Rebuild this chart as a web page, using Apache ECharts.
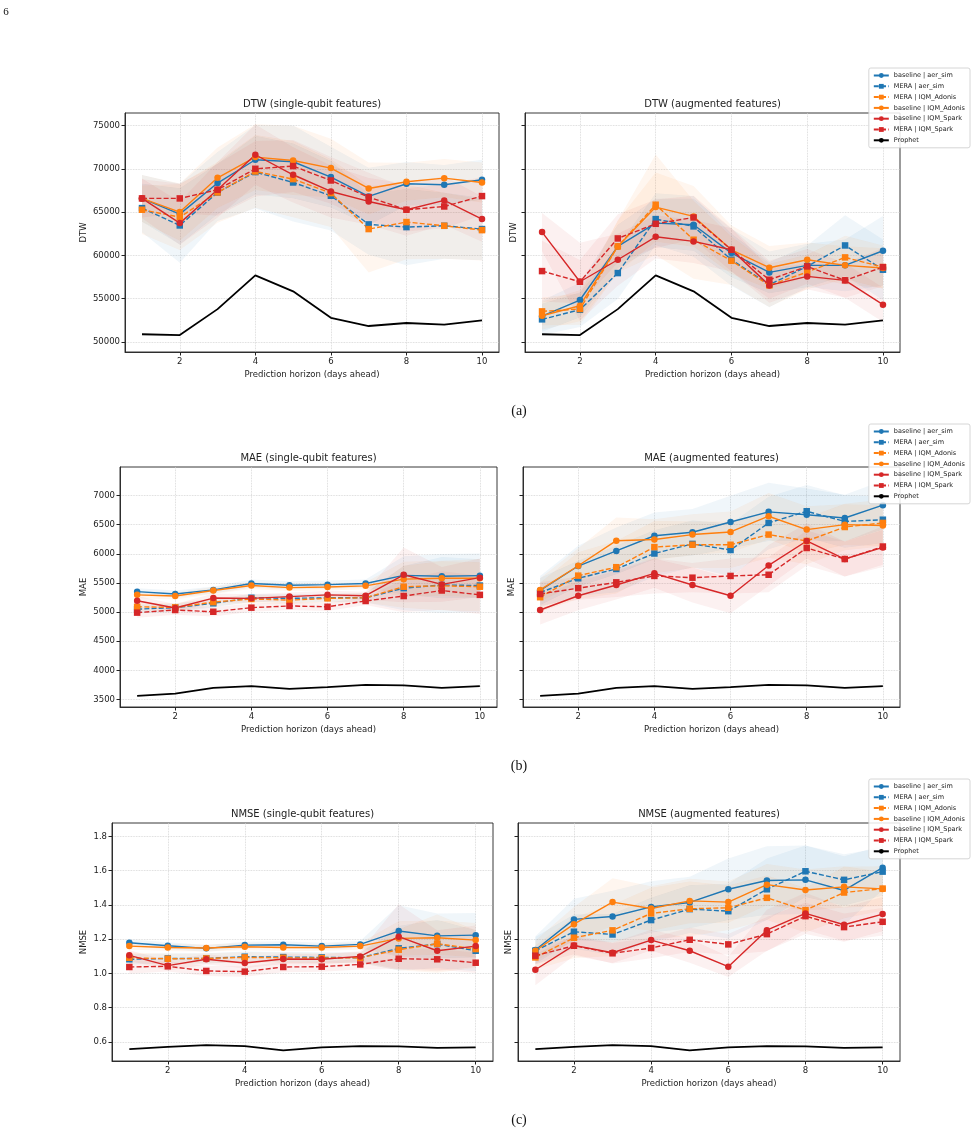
<!DOCTYPE html>
<html>
<head>
<meta charset="utf-8">
<script src="https://cdn.jsdelivr.net/npm/echarts@6/dist/echarts.min.js"></script>
<style>
html, body { margin: 0; padding: 0; background: #fff; }
#chart { width: 977px; height: 1134px; }
</style>
</head>
<body>
<div id="chart"></div>
<script>
var horizon = [1, 2, 3, 4, 5, 6, 7, 8, 9, 10];
var xTicks = [2, 4, 6, 8, 10];
var modelNames = ['baseline | aer_sim', 'MERA | aer_sim', 'MERA | IQM_Adonis', 'baseline | IQM_Adonis', 'baseline | IQM_Spark', 'MERA | IQM_Spark'];
var prophetName = 'Prophet';

// DTW
var dtwTicks = [50000, 55000, 60000, 65000, 70000, 75000];
var dtw_prophet = [50900, 50800, 53800, 57700, 55850, 52800, 51850, 52200, 52000, 52500];

var dtw_single_base_aer = [66580, 64770, 68350, 71040, 70810, 69040, 66810, 68270, 68150, 68730];
var dtw_single_mera_aer = [65460, 63460, 67270, 69620, 68420, 66890, 63580, 63270, 63420, 63040];
var dtw_single_mera_adonis = [65270, 64420, 67270, 69690, 68810, 67190, 63040, 63850, 63420, 62920];
var dtw_single_base_adonis = [66580, 65000, 68960, 71350, 70960, 70080, 67730, 68500, 68920, 68420];
var dtw_single_base_spark = [66580, 63730, 67580, 71620, 69310, 67380, 66230, 65270, 66350, 64190];
var dtw_single_mera_spark = [66580, 66580, 67580, 70000, 70310, 68650, 66730, 65270, 65650, 66850];

var dtw_single_base_aer_sd = [2700, 3500, 3600, 4000, 4200, 3500, 3300, 2500, 2300, 2300];
var dtw_single_mera_aer_sd = [2800, 4300, 3300, 4200, 4500, 4000, 3500, 4400, 3800, 3600];
var dtw_single_mera_adonis_sd = [2800, 3800, 3500, 4200, 4400, 3900, 5000, 4300, 3800, 3500];
var dtw_single_base_adonis_sd = [2700, 3300, 3500, 3800, 4000, 3400, 3000, 2200, 2200, 2300];
var dtw_single_base_spark_sd = [2300, 2500, 3200, 3500, 3200, 3000, 2700, 3000, 2800, 2600];
var dtw_single_mera_spark_sd = [2200, 1700, 3000, 3200, 3000, 2700, 2800, 2500, 2500, 2200];

var dtw_aug_base_aer = [53000, 54850, 61040, 63730, 63540, 60270, 58040, 58850, 58850, 60540];
var dtw_aug_mera_aer = [52620, 53730, 57960, 64190, 63350, 59500, 56620, 58730, 61150, 58350];
var dtw_aug_mera_adonis = [53540, 53810, 61040, 65850, 61810, 59380, 56540, 58080, 59770, 58650];
var dtw_aug_base_adonis = [53040, 54190, 61040, 65580, 64500, 60650, 58580, 59500, 58850, 58540];
var dtw_aug_base_spark = [62690, 56960, 59500, 62150, 61620, 60650, 56540, 57580, 57120, 54310];
var dtw_aug_mera_spark = [58190, 56960, 61960, 63650, 64380, 60650, 57190, 58730, 57120, 58650];

var dtw_aug_base_aer_sd = [1800, 2000, 2500, 2800, 3000, 2800, 2400, 2500, 3000, 4000];
var dtw_aug_mera_aer_sd = [1800, 2000, 3000, 3000, 3500, 3000, 2600, 2400, 3500, 3500];
var dtw_aug_mera_adonis_sd = [1600, 1800, 3000, 5800, 4500, 2800, 2500, 2000, 2500, 2500];
var dtw_aug_base_adonis_sd = [1600, 1800, 3000, 4000, 3500, 2800, 2500, 2000, 2200, 2300];
var dtw_aug_base_spark_sd = [2200, 4500, 3000, 2500, 2500, 2500, 2000, 1500, 2000, 2000];
var dtw_aug_mera_spark_sd = [3500, 2500, 2800, 2800, 2500, 2500, 2200, 2000, 2000, 2200];

// MAE
var maeTicks = [3500, 4000, 4500, 5000, 5500, 6000, 6500, 7000];
var mae_prophet = [3560, 3600, 3700, 3730, 3680, 3710, 3750, 3740, 3700, 3730];

var mae_single_base_aer = [5350, 5310, 5380, 5490, 5460, 5470, 5490, 5630, 5615, 5625];
var mae_single_mera_aer = [5050, 5075, 5150, 5245, 5235, 5245, 5245, 5410, 5465, 5455];
var mae_single_mera_adonis = [5090, 5080, 5170, 5225, 5205, 5235, 5245, 5435, 5450, 5435];
var mae_single_base_adonis = [5295, 5275, 5370, 5455, 5420, 5430, 5450, 5565, 5580, 5580];
var mae_single_base_spark = [5195, 5070, 5240, 5235, 5265, 5295, 5280, 5640, 5475, 5590];
var mae_single_mera_spark = [4990, 5035, 5005, 5075, 5105, 5090, 5190, 5275, 5370, 5295];

var mae_single_base_aer_sd = [60, 60, 60, 70, 70, 70, 70, 330, 380, 380];
var mae_single_mera_aer_sd = [70, 70, 70, 70, 70, 70, 80, 380, 480, 450];
var mae_single_mera_adonis_sd = [70, 70, 70, 70, 70, 70, 80, 360, 420, 420];
var mae_single_base_adonis_sd = [60, 60, 60, 60, 60, 60, 60, 300, 300, 330];
var mae_single_base_spark_sd = [80, 70, 80, 70, 70, 70, 70, 470, 300, 330];
var mae_single_mera_spark_sd = [90, 80, 80, 70, 70, 70, 70, 280, 330, 330];

var mae_aug_base_aer = [5370, 5790, 6050, 6310, 6370, 6545, 6720, 6670, 6615, 6835];
var mae_aug_mera_aer = [5335, 5580, 5740, 6005, 6170, 6065, 6530, 6730, 6555, 6585];
var mae_aug_mera_adonis = [5255, 5625, 5770, 6115, 6155, 6155, 6330, 6220, 6460, 6530];
var mae_aug_base_adonis = [5380, 5795, 6225, 6245, 6330, 6375, 6645, 6415, 6500, 6485];
var mae_aug_base_spark = [5035, 5280, 5465, 5665, 5465, 5280, 5800, 6220, 5910, 6110];
var mae_aug_mera_spark = [5310, 5410, 5510, 5620, 5590, 5620, 5640, 6100, 5910, 6125];

var mae_aug_base_aer_sd = [250, 350, 400, 400, 400, 450, 500, 450, 400, 420];
var mae_aug_mera_aer_sd = [250, 300, 400, 400, 400, 450, 450, 450, 450, 400];
var mae_aug_mera_adonis_sd = [250, 400, 450, 450, 400, 400, 400, 400, 400, 400];
var mae_aug_base_adonis_sd = [200, 300, 400, 350, 350, 350, 400, 400, 350, 350];
var mae_aug_base_spark_sd = [250, 250, 250, 250, 300, 300, 350, 300, 300, 300];
var mae_aug_mera_spark_sd = [200, 200, 250, 300, 250, 300, 300, 300, 300, 350];

// NMSE
var nmseTicks = [0.6, 0.8, 1.0, 1.2, 1.4, 1.6, 1.8];
var nmse_prophet = [0.557, 0.571, 0.581, 0.575, 0.550, 0.567, 0.575, 0.573, 0.565, 0.567];

var nmse_single_base_aer = [1.179, 1.161, 1.146, 1.165, 1.167, 1.159, 1.169, 1.247, 1.219, 1.223];
var nmse_single_mera_aer = [1.082, 1.087, 1.087, 1.097, 1.095, 1.093, 1.091, 1.146, 1.171, 1.132];
var nmse_single_mera_adonis = [1.091, 1.085, 1.087, 1.093, 1.091, 1.089, 1.091, 1.138, 1.173, 1.142];
var nmse_single_base_adonis = [1.159, 1.151, 1.148, 1.155, 1.151, 1.151, 1.159, 1.204, 1.208, 1.194];
var nmse_single_base_spark = [1.105, 1.045, 1.082, 1.060, 1.084, 1.082, 1.099, 1.214, 1.132, 1.159];
var nmse_single_mera_spark = [1.037, 1.041, 1.014, 1.010, 1.037, 1.039, 1.052, 1.085, 1.082, 1.062];

var nmse_single_base_aer_sd = [0.02, 0.02, 0.02, 0.02, 0.02, 0.02, 0.02, 0.15, 0.13, 0.13];
var nmse_single_mera_aer_sd = [0.03, 0.03, 0.03, 0.03, 0.03, 0.03, 0.03, 0.13, 0.14, 0.12];
var nmse_single_mera_adonis_sd = [0.03, 0.03, 0.03, 0.03, 0.03, 0.03, 0.03, 0.12, 0.17, 0.11];
var nmse_single_base_adonis_sd = [0.02, 0.02, 0.02, 0.02, 0.02, 0.02, 0.02, 0.10, 0.10, 0.10];
var nmse_single_base_spark_sd = [0.03, 0.03, 0.03, 0.03, 0.03, 0.03, 0.03, 0.19, 0.12, 0.12];
var nmse_single_mera_spark_sd = [0.04, 0.03, 0.03, 0.03, 0.03, 0.03, 0.03, 0.06, 0.06, 0.06];

var nmse_aug_base_aer = [1.136, 1.315, 1.332, 1.388, 1.414, 1.491, 1.542, 1.546, 1.484, 1.617];
var nmse_aug_mera_aer = [1.132, 1.243, 1.227, 1.311, 1.375, 1.363, 1.491, 1.596, 1.546, 1.594];
var nmse_aug_mera_adonis = [1.093, 1.208, 1.251, 1.350, 1.377, 1.383, 1.441, 1.369, 1.472, 1.495];
var nmse_aug_base_adonis = [1.132, 1.287, 1.416, 1.379, 1.423, 1.416, 1.518, 1.487, 1.505, 1.493];
var nmse_aug_base_spark = [1.021, 1.163, 1.120, 1.194, 1.132, 1.039, 1.252, 1.350, 1.284, 1.346];
var nmse_aug_mera_spark = [1.103, 1.161, 1.117, 1.148, 1.196, 1.169, 1.229, 1.334, 1.270, 1.301];

var nmse_aug_base_aer_sd = [0.08, 0.12, 0.15, 0.15, 0.15, 0.18, 0.20, 0.20, 0.20, 0.13];
var nmse_aug_mera_aer_sd = [0.08, 0.10, 0.12, 0.13, 0.14, 0.16, 0.18, 0.15, 0.15, 0.14];
var nmse_aug_mera_adonis_sd = [0.07, 0.12, 0.15, 0.15, 0.16, 0.13, 0.13, 0.13, 0.15, 0.13];
var nmse_aug_base_adonis_sd = [0.06, 0.10, 0.14, 0.13, 0.13, 0.12, 0.12, 0.12, 0.12, 0.10];
var nmse_aug_base_spark_sd = [0.09, 0.06, 0.06, 0.06, 0.07, 0.06, 0.12, 0.12, 0.10, 0.10];
var nmse_aug_mera_spark_sd = [0.05, 0.05, 0.06, 0.06, 0.07, 0.06, 0.10, 0.08, 0.08, 0.08];

var chart = echarts.init(document.getElementById('chart'));

var font = 'DejaVu Sans';
var colors = ['#1f77b4', '#1f77b4', '#ff7f0e', '#ff7f0e', '#d62728', '#d62728'];
var bandColors = ['rgba(31,119,180,0.065)', 'rgba(31,119,180,0.065)', 'rgba(255,127,14,0.065)', 'rgba(255,127,14,0.065)', 'rgba(214,39,40,0.065)', 'rgba(214,39,40,0.065)'];
var isMera = [false, true, true, false, false, true];

function fmtInt(v) { return String(v); }
function fmtDec(v) { return v.toFixed(1); }

// one entry per subplot
var panels = [
    { title: 'DTW (single-qubit features)', name: 'DTW', box: [125, 113, 374, 239], range: [48850, 76440], ticks: dtwTicks, fmt: fmtInt, labels: true, gap: 37, prophet: dtw_prophet,
      means: [dtw_single_base_aer, dtw_single_mera_aer, dtw_single_mera_adonis, dtw_single_base_adonis, dtw_single_base_spark, dtw_single_mera_spark],
      sds: [dtw_single_base_aer_sd, dtw_single_mera_aer_sd, dtw_single_mera_adonis_sd, dtw_single_base_adonis_sd, dtw_single_base_spark_sd, dtw_single_mera_spark_sd] },
    { title: 'DTW (augmented features)', name: 'DTW', box: [525, 113, 375, 239], range: [48850, 76440], ticks: dtwTicks, fmt: fmtInt, labels: false, gap: 7, prophet: dtw_prophet,
      means: [dtw_aug_base_aer, dtw_aug_mera_aer, dtw_aug_mera_adonis, dtw_aug_base_adonis, dtw_aug_base_spark, dtw_aug_mera_spark],
      sds: [dtw_aug_base_aer_sd, dtw_aug_mera_aer_sd, dtw_aug_mera_adonis_sd, dtw_aug_base_adonis_sd, dtw_aug_base_spark_sd, dtw_aug_mera_spark_sd] },
    { title: 'MAE (single-qubit features)', name: 'MAE', box: [120, 467, 377, 240], range: [3370, 7490], ticks: maeTicks, fmt: fmtInt, labels: true, gap: 32, prophet: mae_prophet,
      means: [mae_single_base_aer, mae_single_mera_aer, mae_single_mera_adonis, mae_single_base_adonis, mae_single_base_spark, mae_single_mera_spark],
      sds: [mae_single_base_aer_sd, mae_single_mera_aer_sd, mae_single_mera_adonis_sd, mae_single_base_adonis_sd, mae_single_base_spark_sd, mae_single_mera_spark_sd] },
    { title: 'MAE (augmented features)', name: 'MAE', box: [523, 467, 377, 240], range: [3370, 7490], ticks: maeTicks, fmt: fmtInt, labels: false, gap: 7, prophet: mae_prophet,
      means: [mae_aug_base_aer, mae_aug_mera_aer, mae_aug_mera_adonis, mae_aug_base_adonis, mae_aug_base_spark, mae_aug_mera_spark],
      sds: [mae_aug_base_aer_sd, mae_aug_mera_aer_sd, mae_aug_mera_adonis_sd, mae_aug_base_adonis_sd, mae_aug_base_spark_sd, mae_aug_mera_spark_sd] },
    { title: 'NMSE (single-qubit features)', name: 'NMSE', box: [112, 823, 381, 238], range: [0.488, 1.878], ticks: nmseTicks, fmt: fmtDec, labels: true, gap: 24, prophet: nmse_prophet,
      means: [nmse_single_base_aer, nmse_single_mera_aer, nmse_single_mera_adonis, nmse_single_base_adonis, nmse_single_base_spark, nmse_single_mera_spark],
      sds: [nmse_single_base_aer_sd, nmse_single_mera_aer_sd, nmse_single_mera_adonis_sd, nmse_single_base_adonis_sd, nmse_single_base_spark_sd, nmse_single_mera_spark_sd] },
    { title: 'NMSE (augmented features)', name: 'NMSE', box: [518, 823, 382, 238], range: [0.488, 1.878], ticks: nmseTicks, fmt: fmtDec, labels: false, gap: 5, prophet: nmse_prophet,
      means: [nmse_aug_base_aer, nmse_aug_mera_aer, nmse_aug_mera_adonis, nmse_aug_base_adonis, nmse_aug_base_spark, nmse_aug_mera_spark],
      sds: [nmse_aug_base_aer_sd, nmse_aug_mera_aer_sd, nmse_aug_mera_adonis_sd, nmse_aug_base_adonis_sd, nmse_aug_base_spark_sd, nmse_aug_mera_spark_sd] }
];

var grids = [], xAxes = [], yAxes = [], series = [], graphics = [];

function pairs(vals) {
    return horizon.map(function(x, i) { return [x, vals[i]]; });
}

// mean +/- sd band as one polygon through the axis scales
function bandSeries(k, m, sd, fill) {
    var data = horizon.map(function(x, j) { return [x, m[j] - sd[j], m[j] + sd[j]]; });
    return {
        type: 'custom', xAxisIndex: k, yAxisIndex: k, silent: true, z: 1,
        encode: { x: 0, y: [1, 2] },
        data: data,
        renderItem: function(params, api) {
            if (params.dataIndex !== 0) return;
            var pts = [];
            data.forEach(function(d) { pts.push(api.coord([d[0], d[2]])); });
            data.slice().reverse().forEach(function(d) { pts.push(api.coord([d[0], d[1]])); });
            return { type: 'polygon', shape: { points: pts }, style: { fill: fill, stroke: null } };
        }
    };
}

panels.forEach(function(p, k) {
    var b = p.box;
    grids.push({ left: b[0], top: b[1], width: b[2], height: b[3], show: true, borderColor: '#222', borderWidth: 0.9, backgroundColor: 'transparent' });
    xAxes.push({
        type: 'value', gridIndex: k, min: 0.55, max: 10.45,
        name: 'Prediction horizon (days ahead)', nameLocation: 'middle', nameGap: 18,
        nameTextStyle: { fontFamily: font, fontSize: 8.5, color: '#222' },
        axisLine: { onZero: false, lineStyle: { color: '#222', width: 0.9 } },
        axisTick: { length: 3.5, lineStyle: { color: '#222' }, customValues: xTicks },
        axisLabel: { fontFamily: font, fontSize: 8.5, color: '#222', margin: 5, customValues: xTicks },
        splitLine: { show: true, lineStyle: { color: '#d0d0d0', type: 'dotted', width: 0.8 } }
    });
    yAxes.push({
        type: 'value', gridIndex: k, min: p.range[0], max: p.range[1],
        name: p.name, nameLocation: 'middle', nameGap: p.gap, nameRotate: 90,
        nameTextStyle: { fontFamily: font, fontSize: 8.5, color: '#222' },
        axisLine: { show: true, lineStyle: { color: '#222', width: 0.9 } },
        axisTick: { show: true, length: 3.5, lineStyle: { color: '#222' }, customValues: p.ticks },
        axisLabel: { show: p.labels, fontFamily: font, fontSize: 8.5, color: '#222', margin: 5, customValues: p.ticks, formatter: p.fmt },
        splitLine: { show: true, lineStyle: { color: '#d0d0d0', type: 'dotted', width: 0.8 } }
    });

    p.means.forEach(function(m, i) {
        series.push(bandSeries(k, m, p.sds[i], bandColors[i]));
    });

    p.means.forEach(function(m, i) {
        series.push({
            name: modelNames[i], type: 'line', xAxisIndex: k, yAxisIndex: k, z: 3,
            symbol: isMera[i] ? 'rect' : 'circle', symbolSize: 6.5,
            itemStyle: { color: colors[i] },
            lineStyle: { color: colors[i], width: 1.4, type: isMera[i] ? [5, 2.2] : 'solid' },
            data: pairs(m)
        });
    });

    series.push({
        name: prophetName, type: 'line', xAxisIndex: k, yAxisIndex: k, z: 4,
        symbol: 'none', itemStyle: { color: '#000' },
        lineStyle: { color: '#000', width: 1.8 },
        data: pairs(p.prophet)
    });

    graphics.push({
        type: 'text', x: b[0] + b[2] / 2, y: b[1] - 9,
        style: { text: p.title, fontFamily: font, fontSize: 10, fill: '#222', textAlign: 'center', textVerticalAlign: 'middle' }
    });
});

var legendNames = modelNames.concat([prophetName]);
var legends = [68, 424, 779].map(function(top) {
    return {
        data: legendNames, orient: 'vertical', right: 7, top: top,
        itemWidth: 15, itemHeight: 6, itemGap: 3.8, padding: [4, 5, 4, 4],
        backgroundColor: 'rgba(255,255,255,0.85)', borderColor: '#cccccc', borderWidth: 0.8, borderRadius: 2,
        textStyle: { fontFamily: font, fontSize: 6.5, color: '#222' }
    };
});

// captions and page number
[['(a)', 411], ['(b)', 766], ['(c)', 1120]].forEach(function(c) {
    graphics.push({
        type: 'text', x: 519, y: c[1],
        style: { text: c[0], fontFamily: 'Liberation Serif', fontSize: 14, fill: '#111', textAlign: 'center', textVerticalAlign: 'middle' }
    });
});
graphics.push({
    type: 'text', x: 6, y: 12,
    style: { text: '6', fontFamily: 'Liberation Serif', fontSize: 11, fill: '#111', textAlign: 'center', textVerticalAlign: 'middle' }
});

chart.setOption({
    animation: false,
    grid: grids,
    xAxis: xAxes,
    yAxis: yAxes,
    legend: legends,
    series: series,
    graphic: graphics
});
</script>
</body>
</html>
